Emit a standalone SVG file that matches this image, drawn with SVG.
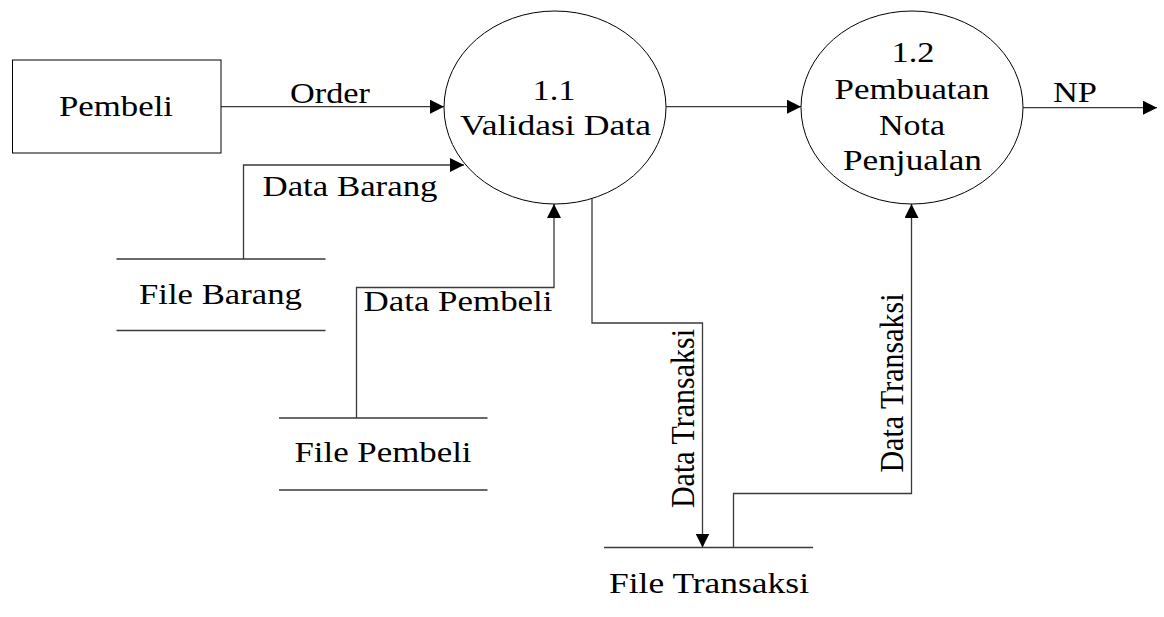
<svg xmlns="http://www.w3.org/2000/svg" width="1164" height="617" viewBox="0 0 1164 617">
  <style>
    .shape { fill: #ffffff; stroke: #000000; stroke-width: 1; }
    .store { fill: none; stroke: #3a3a3a; stroke-width: 1.3; }
    .flow { fill: none; stroke: #3a3a3a; stroke-width: 1.3; }
    text { font-family: "Liberation Serif", "Times New Roman", serif; font-size: 30px; fill: #000000; text-anchor: middle; }
  </style>
  <defs>
    <marker id="arrow" markerUnits="userSpaceOnUse" markerWidth="14" markerHeight="14" refX="14" refY="7" orient="auto">
      <path d="M0,0 L14,7 L0,14 Z" fill="#000000"/>
    </marker>
  </defs>

  <rect width="1164" height="617" fill="#ffffff"/>

  <!-- data flows -->
  <g id="connectors">
    <path class="flow" d="M221,106.7 H444" marker-end="url(#arrow)"/>
    <path class="flow" d="M666,106.7 H801" marker-end="url(#arrow)"/>
    <path class="flow" d="M1023,107.7 H1157" marker-end="url(#arrow)"/>
    <path class="flow" d="M243.5,259 V165 H464" marker-end="url(#arrow)"/>
    <path class="flow" d="M356.5,418 V287.5 H554 V204" marker-end="url(#arrow)"/>
    <path class="flow" d="M592,198.5 V323 H702.5 V547.5" marker-end="url(#arrow)"/>
    <path class="flow" d="M733.5,547.5 V493.5 H911.5 V204" marker-end="url(#arrow)"/>

    <text x="330" y="103" textLength="80" lengthAdjust="spacingAndGlyphs">Order</text>
    <text x="350" y="196" textLength="175" lengthAdjust="spacingAndGlyphs">Data Barang</text>
    <text x="458" y="311" textLength="189" lengthAdjust="spacingAndGlyphs">Data Pembeli</text>
    <text x="1075" y="102" textLength="44" lengthAdjust="spacingAndGlyphs">NP</text>
    <text transform="translate(694,418.5) scale(1.15,1) rotate(-90)" x="0" y="0">Data Transaksi</text>
    <text transform="translate(903,383) scale(1.15,1) rotate(-90)" x="0" y="0">Data Transaksi</text>
  </g>

  <!-- external entity -->
  <g id="pembeli">
    <rect class="shape" x="12.5" y="60" width="208.5" height="93"/>
    <text x="116" y="116" textLength="114" lengthAdjust="spacingAndGlyphs">Pembeli</text>
  </g>

  <!-- processes -->
  <g id="proses-1-1">
    <ellipse class="shape" cx="555" cy="107.5" rx="111" ry="96.5" fill="none"/>
    <text x="554" y="100" textLength="43" lengthAdjust="spacingAndGlyphs">1.1</text>
    <text x="555.5" y="135" textLength="191" lengthAdjust="spacingAndGlyphs">Validasi Data</text>
  </g>

  <g id="proses-1-2">
    <ellipse class="shape" cx="912" cy="107.5" rx="111" ry="96.5"/>
    <text x="913" y="62" textLength="43" lengthAdjust="spacingAndGlyphs">1.2</text>
    <text x="912" y="99" textLength="155" lengthAdjust="spacingAndGlyphs">Pembuatan</text>
    <text x="912" y="135" textLength="66" lengthAdjust="spacingAndGlyphs">Nota</text>
    <text x="912.5" y="170" textLength="139" lengthAdjust="spacingAndGlyphs">Penjualan</text>
  </g>

  <!-- data stores -->
  <g id="file-barang">
    <path class="store" d="M116.5,259 H325.5 M116.5,330.5 H325.5"/>
    <text x="220.5" y="304" textLength="163" lengthAdjust="spacingAndGlyphs">File Barang</text>
  </g>

  <g id="file-pembeli">
    <path class="store" d="M279,418 H487.5 M279,490 H487.5"/>
    <text x="383" y="462" textLength="177" lengthAdjust="spacingAndGlyphs">File Pembeli</text>
  </g>

  <g id="file-transaksi">
    <path class="store" d="M604,547.5 H813"/>
    <text x="709" y="593" textLength="200" lengthAdjust="spacingAndGlyphs">File Transaksi</text>
  </g>
</svg>
